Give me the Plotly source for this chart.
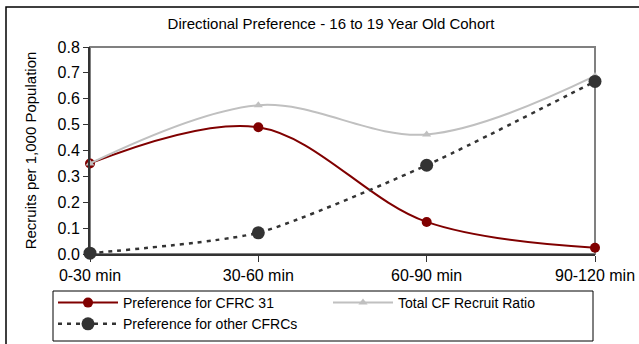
import plotly.graph_objects as go

categories = ["0-30 min", "30-60 min", "60-90 min", "90-120 min"]
cfrc31 = [0.35, 0.49, 0.124, 0.024]
total_ratio = [0.35, 0.575, 0.462, 0.688]
other_cfrcs = [0.003, 0.082, 0.343, 0.667]

xpos = list(range(len(categories)))

W, H = 639, 344
L, R, T, B = 90, 44, 47, 90
pw, ph = W - L - R, H - T - B

fig = go.Figure()
fig.add_trace(go.Scatter(
    x=xpos, y=cfrc31, name="Preference for CFRC 31", mode="lines+markers",
    line=dict(color="#800000", width=2, shape="spline", smoothing=1.0),
    marker=dict(color="#800000", size=10, symbol="circle"), cliponaxis=False))
fig.add_trace(go.Scatter(
    x=xpos, y=total_ratio, name="Total CF Recruit Ratio", mode="lines+markers",
    line=dict(color="#c0c0c0", width=2, shape="spline", smoothing=1.0),
    marker=dict(color="#c0c0c0", size=8, symbol="triangle-up"), cliponaxis=False))
fig.add_trace(go.Scatter(
    x=xpos, y=other_cfrcs, name="Preference for other CFRCs", mode="lines+markers",
    line=dict(color="#333333", width=2.5, dash="4px,5px", shape="spline", smoothing=0.6),
    marker=dict(color="#333333", size=13, symbol="circle"), cliponaxis=False))

def px_x(p):
    return (p - L) / pw

def px_y(p):
    return (H - B - p) / ph

fig.update_layout(
    width=W, height=H,
    margin=dict(l=L, r=R, t=T, b=B, autoexpand=False),
    paper_bgcolor="white", plot_bgcolor="white",
    font=dict(family="Arial, Liberation Sans", color="black"),
    title=dict(text="Directional Preference - 16 to 19 Year Old Cohort",
               x=331 / W, xanchor="center", y=1 - 24 / H, yanchor="middle",
               font=dict(size=15)),
    xaxis=dict(range=[0, 3], tickvals=xpos, ticktext=categories,
               showgrid=False, zeroline=False, showline=True,
               linecolor="#333333", linewidth=2, ticks="outside",
               ticklen=6, tickcolor="#333333", tickfont=dict(size=16)),
    yaxis=dict(range=[0, 0.8], dtick=0.1, tickformat=".1f",
               showgrid=False, zeroline=False, showline=True,
               linecolor="#333333", linewidth=2, ticks="outside",
               ticklen=5, tickcolor="#333333", tickfont=dict(size=16),
               title=dict(text="Recruits per 1,000 Population",
                          font=dict(size=15), standoff=17)),
    legend=dict(orientation="h", x=px_x(53), y=px_y(287),
                xanchor="left", yanchor="top",
                bgcolor="rgba(0,0,0,0)", borderwidth=0,
                itemwidth=60,
                entrywidth=200, entrywidthmode="pixels",
                font=dict(size=14), traceorder="normal"),
    showlegend=True,
    shapes=[
        dict(type="rect", xref="paper", yref="paper", x0=0, y0=0, x1=1, y1=1,
             line=dict(color="#808080", width=2), layer="below"),
        dict(type="rect", xref="paper", yref="paper",
             x0=px_x(6), y0=px_y(360), x1=px_x(680), y1=px_y(7),
             line=dict(color="black", width=1.5), layer="below"),
        dict(type="rect", xref="paper", yref="paper",
             x0=px_x(53), y0=px_y(341), x1=px_x(593), y1=px_y(291),
             line=dict(color="black", width=1), layer="below"),
    ],
)

fig.write_html("out.html")
